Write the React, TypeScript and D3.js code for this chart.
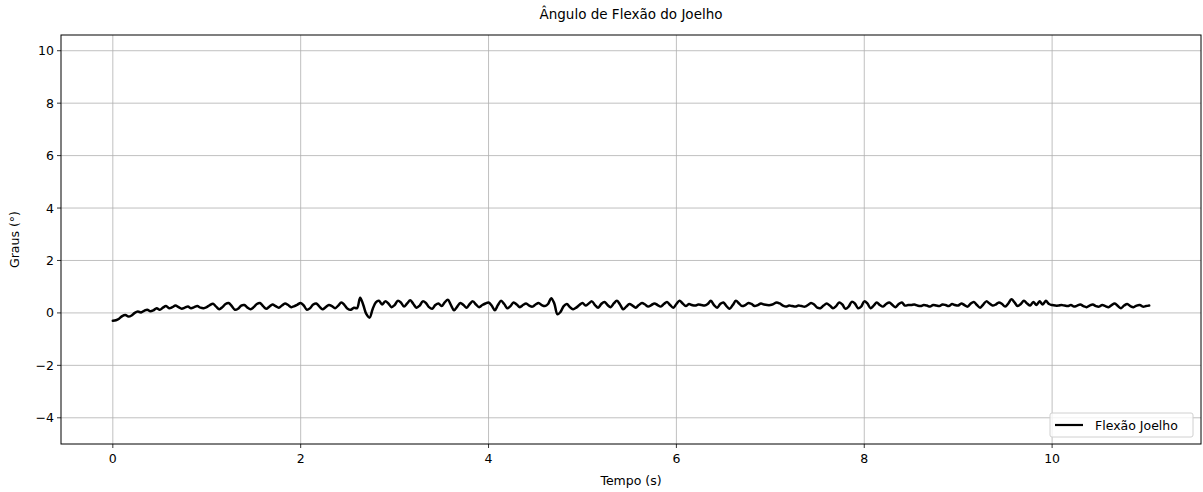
import React from "react";
import * as d3 from "d3";

const SAMPLE_RATE = 30; // samples per second
const flexao: number[] = [
  // 0 s
  -0.30, -0.28, -0.22, -0.12, -0.08, -0.14, -0.10, 0.00, 0.05, 0.02, 0.08, 0.12, 0.06, 0.10, 0.18, 0.12, 0.20, 0.26, 0.18, 0.22, 0.28, 0.22, 0.16, 0.20, 0.24, 0.18, 0.22, 0.26, 0.20, 0.18,
  // 1 s
  0.22, 0.30, 0.35, 0.24, 0.14, 0.22, 0.34, 0.38, 0.26, 0.12, 0.16, 0.28, 0.30, 0.20, 0.14, 0.22, 0.34, 0.38, 0.26, 0.16, 0.24, 0.32, 0.26, 0.20, 0.28, 0.36, 0.30, 0.22, 0.26, 0.32,
  // 2 s
  0.38, 0.28, 0.12, 0.18, 0.32, 0.36, 0.24, 0.14, 0.22, 0.30, 0.26, 0.18, 0.28, 0.40, 0.30, 0.16, 0.12, 0.20, 0.18, 0.58, 0.30, -0.05, -0.18, 0.15, 0.40, 0.46, 0.32, 0.44, 0.36, 0.22,
  // 3 s
  0.30, 0.46, 0.40, 0.24, 0.36, 0.48, 0.34, 0.20, 0.28, 0.44, 0.38, 0.22, 0.16, 0.30, 0.36, 0.26, 0.40, 0.50, 0.30, 0.10, 0.24, 0.38, 0.30, 0.20, 0.34, 0.44, 0.32, 0.22, 0.30, 0.36,
  // 4 s
  0.40, 0.28, 0.10, 0.30, 0.46, 0.34, 0.18, 0.26, 0.40, 0.32, 0.22, 0.30, 0.36, 0.28, 0.24, 0.32, 0.38, 0.30, 0.26, 0.34, 0.56, 0.36, -0.05, 0.04, 0.26, 0.34, 0.22, 0.14, 0.20, 0.30,
  // 5 s
  0.38, 0.28, 0.36, 0.44, 0.30, 0.20, 0.34, 0.42, 0.30, 0.22, 0.36, 0.46, 0.32, 0.14, 0.24, 0.34, 0.28, 0.20, 0.30, 0.38, 0.32, 0.24, 0.30, 0.36, 0.30, 0.24, 0.34, 0.42, 0.30, 0.20,
  // 6 s
  0.34, 0.46, 0.36, 0.26, 0.34, 0.30, 0.28, 0.32, 0.30, 0.28, 0.34, 0.46, 0.30, 0.20, 0.34, 0.40, 0.26, 0.16, 0.30, 0.46, 0.36, 0.26, 0.30, 0.38, 0.34, 0.26, 0.30, 0.36, 0.32, 0.30,
  // 7 s
  0.30, 0.34, 0.40, 0.36, 0.28, 0.24, 0.28, 0.26, 0.24, 0.28, 0.26, 0.24, 0.30, 0.38, 0.32, 0.20, 0.18, 0.28, 0.36, 0.28, 0.18, 0.26, 0.40, 0.32, 0.16, 0.24, 0.42, 0.36, 0.18, 0.24,
  // 8 s
  0.44, 0.36, 0.18, 0.28, 0.40, 0.30, 0.24, 0.34, 0.40, 0.30, 0.22, 0.34, 0.40, 0.28, 0.30, 0.30, 0.32, 0.28, 0.26, 0.30, 0.28, 0.24, 0.30, 0.28, 0.26, 0.32, 0.30, 0.26, 0.34, 0.30,
  // 9 s
  0.28, 0.36, 0.30, 0.24, 0.36, 0.42, 0.30, 0.20, 0.32, 0.44, 0.36, 0.28, 0.32, 0.40, 0.34, 0.24, 0.36, 0.52, 0.40, 0.26, 0.34, 0.46, 0.36, 0.28, 0.42, 0.30, 0.44, 0.32, 0.46, 0.34,
  // 10 s
  0.30, 0.28, 0.28, 0.30, 0.28, 0.26, 0.30, 0.24, 0.28, 0.32, 0.26, 0.22, 0.28, 0.32, 0.26, 0.24, 0.30, 0.26, 0.22, 0.30, 0.36, 0.26, 0.18, 0.28, 0.34, 0.26, 0.22, 0.28, 0.30, 0.24,
  // 11 s
  0.26, 0.28,
];
const xTicks = [0, 2, 4, 6, 8, 10];
const yTicks = [-4, -2, 0, 2, 4, 6, 8, 10];
const yDomain: [number, number] = [-5, 10.6];
const title = "Ângulo de Flexão do Joelho";
const xLabel = "Tempo (s)";
const yLabel = "Graus (°)";
const legendLabel = "Flexão Joelho";

const W = 1203, H = 492;
const L = 61, R = 1201, T = 35, B = 444;
const FONT = "DejaVu Sans";

export default function App() {
  const data = flexao.map((v, i) => ({ t: i / SAMPLE_RATE, v }));
  const tMax = d3.max(data, (d) => d.t) as number;
  const pad = tMax * 0.05;
  const x = d3.scaleLinear().domain([-pad, tMax + pad]).range([L, R]);
  const y = d3.scaleLinear().domain(yDomain).range([B, T]);
  const line = d3
    .line<{ t: number; v: number }>()
    .x((d) => x(d.t))
    .y((d) => y(d.v))
    .curve(d3.curveCatmullRom.alpha(0.5));
  const lgR = R - 8, lgB = B - 7;
  return (
    <svg width={W} height={H} style={{ position: "absolute", left: 0, top: 0, background: "#fff" }} fontFamily={FONT}>
      <rect x={0} y={0} width={W} height={H} fill="#fff" />
      {xTicks.map((t) => (
        <line key={"gx" + t} x1={x(t)} x2={x(t)} y1={T} y2={B} stroke="#b0b0b0" strokeWidth={0.8} />
      ))}
      {yTicks.map((t) => (
        <line key={"gy" + t} x1={L} x2={R} y1={y(t)} y2={y(t)} stroke="#b0b0b0" strokeWidth={0.8} />
      ))}
      <path d={line(data) || ""} fill="none" stroke="#000" strokeWidth={2.5} strokeLinejoin="round" strokeLinecap="round" />
      <rect x={L} y={T} width={R - L} height={B - T} fill="none" stroke="#000" strokeWidth={1} />
      {xTicks.map((t) => (
        <g key={"tx" + t}>
          <line x1={x(t)} x2={x(t)} y1={B} y2={B + 4} stroke="#000" strokeWidth={0.8} />
          <text x={x(t)} y={B + 19} textAnchor="middle" fontSize={12.5} fill="#000">{t}</text>
        </g>
      ))}
      {yTicks.map((t) => (
        <g key={"ty" + t}>
          <line x1={L - 4} x2={L} y1={y(t)} y2={y(t)} stroke="#000" strokeWidth={0.8} />
          <text x={L - 7} y={y(t) + 4.5} textAnchor="end" fontSize={12.5} fill="#000">{t < 0 ? "\u2212" + Math.abs(t) : t}</text>
        </g>
      ))}
      <text x={(L + R) / 2} y={19} textAnchor="middle" fontSize={13.5} fill="#000">{title}</text>
      <text x={(L + R) / 2} y={485} textAnchor="middle" fontSize={12.5} fill="#000">{xLabel}</text>
      <text transform={`translate(19,${(T + B) / 2}) rotate(-90)`} textAnchor="middle" fontSize={12.5} fill="#000">{yLabel}</text>
      <g>
        <rect x={lgR - 143} y={lgB - 24} width={143} height={24} rx={2} fill="#fff" fillOpacity={0.8} stroke="#d0d0d0" strokeWidth={1} />
        <line x1={lgR - 138} x2={lgR - 110} y1={lgB - 12} y2={lgB - 12} stroke="#000" strokeWidth={2.2} />
        <text x={lgR - 98} y={lgB - 7.5} fontSize={12.5} fill="#000">{legendLabel}</text>
      </g>
    </svg>
  );
}
